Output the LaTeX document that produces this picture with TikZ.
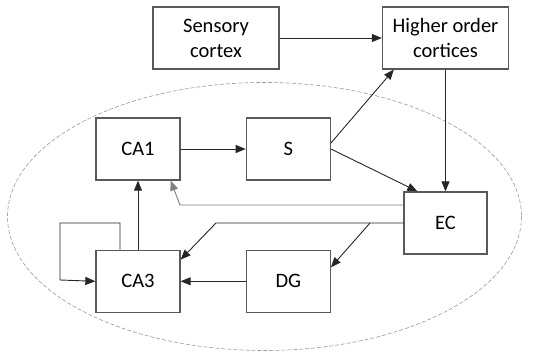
\documentclass[tikz,border=0pt]{standalone}
\usepackage{fontspec}
\setmainfont{Carlito}
\usetikzlibrary{arrows.meta,positioning}

\begin{document}
\begin{tikzpicture}[x=1pt,y=-1pt,>={Triangle[length=10pt,width=8pt]},
    area node/.style={draw=black!65,line width=1.3pt,rectangle,minimum width=84pt,minimum height=62pt,inner sep=0pt,align=center,font=\fontsize{20.5}{25}\selectfont},
    cortex node/.style={area node,minimum width=126pt},
    link/.style={->,line width=0.9pt,draw=black!85},
    weak link/.style={->,line width=0.9pt,draw=black!50,color=black!50}]
    \useasboundingbox (0,0) rectangle (539,352);

    % hippocampal region
    \draw[black!40,line width=0.6pt,dash pattern=on 4pt off 2pt] (264.5,216.5) ellipse [x radius=257, y radius=134];

    \node[cortex node] (sc) at (216,38) {Sensory\\cortex};
    \node[cortex node] (hoc) at (445.5,38) {Higher order\\cortices};
    \node[area node] (ca1) at (138,149) {CA1};
    \node[area node] (s)[right=65pt of ca1] {S};
    \node[area node] (ca3)[below=69pt of ca1] {CA3};
    \node[area node] (dg)[right=65pt of ca3] {DG};
    \node[area node,minimum width=83pt] (ec) at (445.5,223) {EC};

    \coordinate (b1) at (180,205);
    \coordinate (b2) at (216,223);
    \coordinate (b3) at (370,223);
    \coordinate (l1) at (120,223);
    \coordinate (l2) at (60,223);
    \coordinate (l3) at (60,280);

    \path
        (sc) edge[link] (hoc)
        (ca1) edge[link] (s)
        ([yshift=6pt]s.east) edge[link] ([xshift=12pt]hoc.south west)
        (s.east) edge[link] ([xshift=14pt]ec.north west)
        (hoc) edge[link] (ec)
        (ca3) edge[link] (ca1)
        (dg) edge[link] (ca3)
        (b3) edge[link] ([yshift=14pt]dg.east)
    ;
    \draw[weak link] ([yshift=18pt]ec.west) -- (b1) -- ([xshift=-10pt]ca1.south east);
    \draw[link] (ec.west) -- (b2) -- ([yshift=-10pt]ca3.north east);
    \draw[link] (ca3.north -| l1) -- (l1) -- (l2) -- (l3) -- (ca3.west);
\end{tikzpicture}
\end{document}
